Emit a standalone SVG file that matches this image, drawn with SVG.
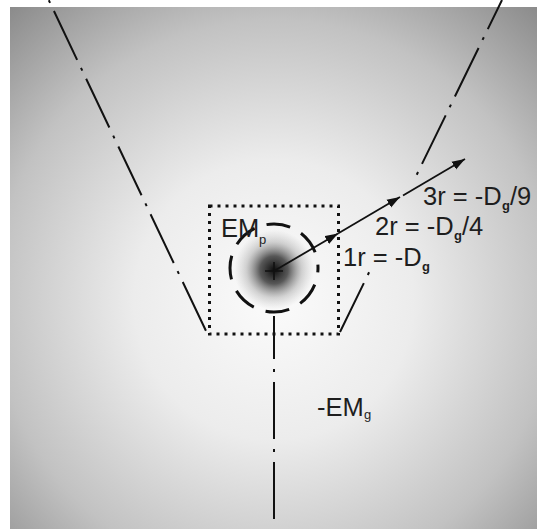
<svg xmlns="http://www.w3.org/2000/svg" width="537" height="529" viewBox="0 0 537 529">
  <defs>
    <radialGradient id="bg" gradientUnits="userSpaceOnUse" cx="274" cy="300" r="400">
      <stop offset="0" stop-color="#fbfbfb"/>
      <stop offset="0.35" stop-color="#ececec"/>
      <stop offset="0.7" stop-color="#c2c2c2"/>
      <stop offset="1" stop-color="#888888"/>
    </radialGradient>
    <radialGradient id="blob" gradientUnits="userSpaceOnUse" cx="274" cy="270" r="40">
      <stop offset="0" stop-color="#000" stop-opacity="0.95"/>
      <stop offset="0.35" stop-color="#222" stop-opacity="0.75"/>
      <stop offset="0.7" stop-color="#777" stop-opacity="0.3"/>
      <stop offset="1" stop-color="#999" stop-opacity="0"/>
    </radialGradient>
    <marker id="arrow" markerUnits="userSpaceOnUse" markerWidth="14" markerHeight="10" refX="13" refY="5" orient="auto">
      <path d="M0,0.5 L13,5 L0,9.5 Z" fill="#111"/>
    </marker>
    <style>
      .dd { fill: none; stroke: #111; stroke-width: 2; stroke-dasharray: 54 9 3 9; }
      .arr { fill: none; stroke: #111; stroke-width: 1.8; marker-end: url(#arrow); }
      .lbl { font-family: "Liberation Sans", Arial, sans-serif; font-size: 25.5px; fill: #1e1e1e; }
      .sub { font-family: "Liberation Sans", Arial, sans-serif; font-size: 13px; fill: #1e1e1e; font-weight: bold; }
      .subn { font-family: "Liberation Sans", Arial, sans-serif; font-size: 13px; fill: #1e1e1e; }
    </style>
  </defs>

  <rect x="0" y="0" width="537" height="529" fill="#ffffff"/>
  <g id="field">
    <rect x="10" y="7" width="527" height="522" fill="url(#bg)"/>
  </g>

  <g id="source">
    <circle cx="274" cy="270" r="40" fill="url(#blob)"/>
    <path d="M265,271 H283 M274,262 V280" stroke="#111" stroke-width="1.6" fill="none"/>
    <path d="M318,268 A44,44 0 1 1 230,268 A44,44 0 1 1 318,268" fill="none" stroke="#111" stroke-width="3" stroke-dasharray="24 12.5" stroke-dashoffset="19.5"/>
  </g>

  <g id="zone-EMp">
    <rect x="209.5" y="206" width="129" height="128" fill="none" stroke="#111" stroke-width="3" stroke-dasharray="3 5"/>
    <text class="lbl" x="221" y="237">EM</text>
    <text class="subn" x="259" y="244">p</text>
  </g>

  <g id="label-EMg">
    <text class="lbl" x="317" y="416">-EM</text>
    <text class="subn" x="364" y="419">g</text>
  </g>

  <g id="label-1r">
    <text class="lbl" x="343" y="266">1r = -D</text>
    <text class="sub" x="422" y="271">g</text>
  </g>
  <g id="label-2r">
    <text class="lbl" x="375" y="235">2r = -D</text>
    <text class="sub" x="454" y="240">g</text>
    <text class="lbl" x="462" y="235">/4</text>
  </g>
  <g id="label-3r">
    <text class="lbl" x="423" y="205">3r = -D</text>
    <text class="sub" x="502" y="210">g</text>
    <text class="lbl" x="510" y="205">/9</text>
  </g>

  <g id="connectors">
    <line class="dd" x1="47.5" y1="-2.5" x2="207" y2="333" stroke-dashoffset="60"/>
    <line class="dd" x1="502" y1="0" x2="416.5" y2="175.2" stroke-dashoffset="21.6"/>
    <line x1="369.1" y1="272.3" x2="340" y2="332" fill="none" stroke="#111" stroke-width="2" stroke-dasharray="3 9 100"/>
    <line x1="274" y1="316" x2="274" y2="520" fill="none" stroke="#111" stroke-width="2" stroke-dasharray="57 10 3 10" stroke-dashoffset="14"/>
    <line class="arr" x1="274" y1="271" x2="338" y2="233.5"/>
    <line class="arr" x1="338" y1="233.5" x2="400" y2="197"/>
    <line class="arr" x1="403" y1="195.5" x2="465" y2="159"/>
  </g>
</svg>
